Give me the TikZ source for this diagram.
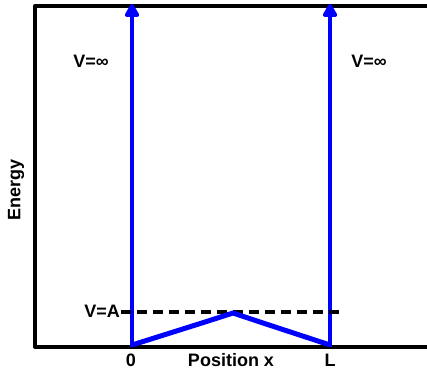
\documentclass[tikz,border=0pt]{standalone}
\usepackage{fontspec}
\setmainfont{Liberation Sans}
\usetikzlibrary{arrows.meta}
\begin{document}
\begin{tikzpicture}[x=1pt,y=-1pt,
  lbl/.style={font=\bfseries\fontsize{18}{19}\selectfont,inner sep=0pt},
  wall/.style={draw=blue,line width=4.5pt,-{Triangle[width=16pt,length=15pt,round]}},
  axis/.style={draw=black,line width=4pt}]
\useasboundingbox (0,0) rectangle (427,375);
\coordinate (tl) at (35,6);
\coordinate (tr) at (427,6);
\coordinate (bl) at (35,347);
\coordinate (br) at (427,347);
\draw[axis,line join=round] (tr) -- (tl) -- (bl) -- (br);
\coordinate (w0b) at (132,347);
\coordinate (w0t) at (132,4);
\coordinate (wLb) at (330,347);
\coordinate (wLt) at (330,4);
\draw[wall] (w0b) -- (w0t);
\draw[wall] (wLb) -- (wLt);
\node[lbl,anchor=east] (va) at (120,311) {V=A};
\coordinate (dend) at (342,312);
\draw[black,line width=3.5pt,dash pattern=on 10pt off 6pt] (va.east) ++(1,1) -- (dend);
\coordinate (p0) at (132,345);
\coordinate (pm) at (233,313);
\coordinate (pL) at (330,345);
\draw[blue,line width=5pt,line join=round] (p0) -- (205,322) -- (pm) -- (260,322) -- (pL);
\node[lbl] (vinf1) at (91,61) {V=∞};
\node[lbl] (vinf2) at (369,61) {V=∞};
\node[lbl] (zero) at (131,360) {0};
\node[lbl] (pos) at (231,360) {Position x};
\node[lbl] (ell) at (330,360) {L};
\node[lbl,rotate=90] (en) at (16,190) {Energy};
\end{tikzpicture}
\end{document}
